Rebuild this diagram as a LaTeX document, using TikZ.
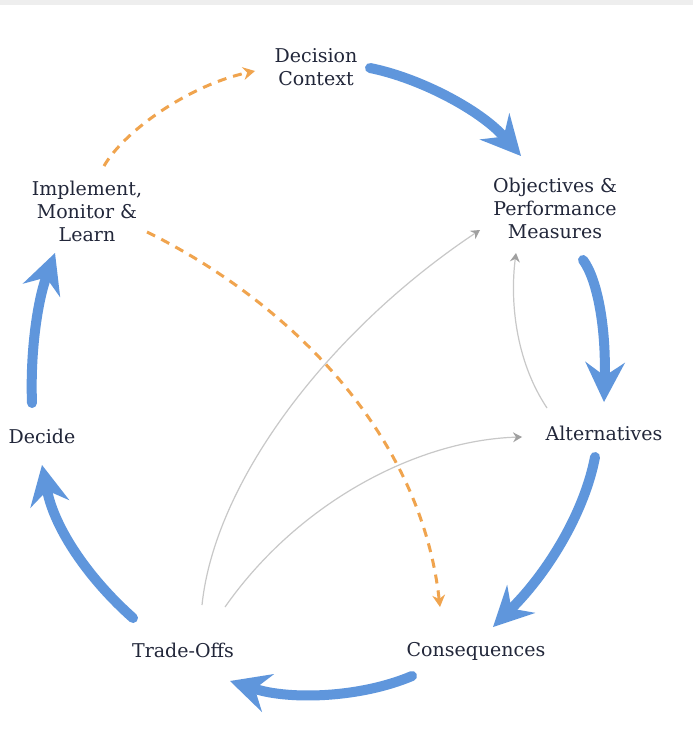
\documentclass[tikz,border=0pt]{standalone}
\usepackage{fontspec}
\setmainfont{DejaVu Serif}
\usetikzlibrary{arrows.meta}
\definecolor{txt}{RGB}{34,39,58}
\definecolor{cblue}{RGB}{95,150,220}
\definecolor{corange}{RGB}{240,164,78}
\definecolor{cgrayline}{RGB}{200,200,200}
\definecolor{cgraytip}{RGB}{160,160,160}
\definecolor{strip}{RGB}{238,238,238}
\tikzset{
  lbl/.style={text=txt, align=center, inner sep=0pt, font=\fontsize{19}{23}\selectfont},
  mainarrow/.style={draw=cblue, line width=10pt, line cap=round,
    -{Stealth[length=40pt, width=40pt, inset=14pt, color=cblue, fill=cblue, line width=0pt]}},
  feedback/.style={draw=corange, line width=3pt, dash pattern=on 9pt off 7pt,
    -{Stealth[length=12pt, width=13pt, inset=4pt, color=corange, fill=corange, line width=0pt]}},
  thinarrow/.style={draw=cgrayline, line width=1.2pt,
    -{Stealth[length=9pt, width=10pt, inset=3pt, color=cgraytip, fill=cgraytip, line width=0pt]}}
}
\begin{document}
\begin{tikzpicture}[x=1pt,y=-1pt]
\fill[white] (0,0) rectangle (693,743);
\fill[strip] (0,0) rectangle (693,5);
\useasboundingbox (0,0) rectangle (693,743);

% labels
\node[lbl] (ctx) at (316,67) {Decision\\Context};
\node[lbl] (obj) at (555,208) {Objectives \&\\Performance\\Measures};
\node[lbl] (alt) at (604,433) {Alternatives};
\node[lbl] (cons) at (476,651) {Consequences};
\node[lbl] (trade) at (183,650) {Trade-Offs};
\node[lbl] (decide) at (42,436) {Decide};
\node[lbl] (impl) at (87,211) {Implement,\\Monitor \&\\Learn};

% connector end points
\coordinate (b1s) at (370,68);  \coordinate (b1e) at (521,156);
\coordinate (b2s) at (583,260); \coordinate (b2e) at (604,402);
\coordinate (b3s) at (595,457); \coordinate (b3e) at (493,627);
\coordinate (b4s) at (412,676); \coordinate (b4e) at (230,681);
\coordinate (b5s) at (133,618); \coordinate (b5e) at (42,465);
\coordinate (b6s) at (32,403);  \coordinate (b6e) at (55,253);

\coordinate (o1s) at (104,166); \coordinate (o1e) at (255,71);
\coordinate (o2s) at (147,232); \coordinate (o2e) at (440,607);

\coordinate (g1s) at (202,605); \coordinate (g1e) at (480,230);
\coordinate (g2s) at (225,607); \coordinate (g2e) at (522,437);
\coordinate (g3s) at (547,408); \coordinate (g3e) at (516,253);

% thin grey links
\draw[thinarrow] (g1s) .. controls (215,480) and (330,330) .. (g1e);
\draw[thinarrow] (g2s) .. controls (300,500) and (420,440) .. (g2e);
\draw[thinarrow] (g3s) .. controls (515,360) and (510,300) .. (g3e);

% orange feedback
\draw[feedback] (o1s) .. controls (125,130) and (190,85) .. (o1e);
\draw[feedback] (o2s) .. controls (285,300) and (420,430) .. (o2e);

% main cycle
\draw[mainarrow] (b1s) .. controls (420,78) and (480,110) .. (b1e);
\draw[mainarrow] (b2s) .. controls (598,280) and (606,330) .. (b2e);
\draw[mainarrow] (b3s) .. controls (585,510) and (550,570) .. (b3e);
\draw[mainarrow] (b4s) .. controls (360,698) and (290,700) .. (b4e);
\draw[mainarrow] (b5s) .. controls (90,580) and (55,530) .. (b5e);
\draw[mainarrow] (b6s) .. controls (30,350) and (38,300) .. (b6e);
\end{tikzpicture}
\end{document}
